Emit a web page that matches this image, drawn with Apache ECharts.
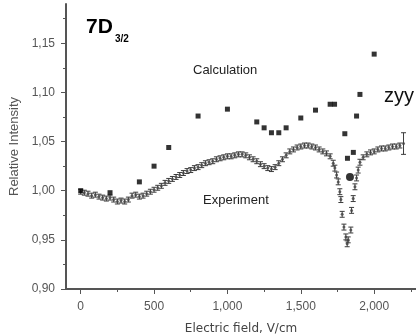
<!DOCTYPE html>
<html>
<head>
<meta charset="utf-8">
<script src="https://cdn.jsdelivr.net/npm/echarts@6/dist/echarts.min.js"></script>
<style>
html,body{margin:0;padding:0;background:#fff;}
#chart{width:416px;height:335px;}
</style>
</head>
<body>
<div id="chart"></div>
<script>
// calculation (squares)
var calcX = [0, 200, 400, 500, 600, 800, 1000, 1200, 1250, 1300, 1350, 1400, 1500, 1600, 1700, 1730, 1800, 1818, 1835, 1858, 1880, 1903, 2000];
var calcY = [1.000, 0.998, 1.009, 1.025, 1.044, 1.076, 1.083, 1.070, 1.064, 1.059, 1.059, 1.064, 1.074, 1.082, 1.088, 1.088, 1.058, 1.033, 1.014, 1.039, 1.076, 1.098, 1.139];

// experiment (points with error bars)
var expX = [0, 25, 50, 75, 100, 125, 150, 175, 200, 225, 250, 275, 300, 325, 350, 375, 400, 425, 450, 475,
  500, 525, 550, 575, 600, 625, 650, 675, 700, 725, 750, 775, 800, 825, 850, 875, 900, 925, 950, 975,
  1000, 1025, 1050, 1075, 1100, 1125, 1150, 1175, 1200, 1225, 1250, 1275, 1300, 1325, 1350, 1375, 1400, 1425, 1450, 1475,
  1500, 1525, 1550, 1575, 1600, 1625, 1650, 1675, 1700,
  1721, 1732, 1744, 1755, 1766, 1773, 1782, 1794, 1807, 1816, 1823, 1841, 1846, 1857, 1869, 1880, 1891, 1903,
  1925, 1950, 1975, 2000, 2025, 2050, 2075, 2100, 2125, 2150, 2175, 2200];
var expY = [0.999, 0.998, 0.997, 0.995, 0.996, 0.994, 0.993, 0.992, 0.993, 0.991, 0.989, 0.990, 0.989, 0.991, 0.995, 0.996, 0.994, 0.995, 0.997, 0.999,
  1.001, 1.003, 1.005, 1.008, 1.010, 1.012, 1.014, 1.016, 1.018, 1.020, 1.021, 1.023, 1.024, 1.026, 1.028, 1.029, 1.030, 1.032, 1.033, 1.034,
  1.035, 1.035, 1.036, 1.037, 1.037, 1.036, 1.034, 1.032, 1.030, 1.027, 1.025, 1.023, 1.022, 1.024, 1.028, 1.032, 1.036, 1.040, 1.042, 1.044,
  1.045, 1.046, 1.046, 1.045, 1.044, 1.042, 1.040, 1.038, 1.035,
  1.028, 1.023, 1.016, 1.009, 0.999, 0.991, 0.976, 0.963, 0.953, 0.946, 0.950, 0.960, 0.980, 0.992, 1.004, 1.013, 1.021, 1.029,
  1.034, 1.037, 1.039, 1.040, 1.042, 1.043, 1.043, 1.044, 1.045, 1.045, 1.046, 1.048];
var expErr = [0.0025, 0.0025, 0.0025, 0.0025, 0.0025, 0.0025, 0.0025, 0.0025, 0.0025, 0.0025, 0.0025, 0.0025, 0.0025, 0.0025, 0.0025, 0.0025, 0.0025, 0.0025, 0.0025, 0.0025,
  0.0025, 0.0025, 0.0025, 0.0025, 0.0025, 0.0025, 0.0025, 0.0025, 0.0025, 0.0025, 0.0025, 0.0025, 0.0025, 0.0025, 0.0025, 0.0025, 0.0025, 0.0025, 0.0025, 0.0025,
  0.0025, 0.0025, 0.0025, 0.0025, 0.0025, 0.0025, 0.0025, 0.0025, 0.0025, 0.0025, 0.0025, 0.0025, 0.0025, 0.0025, 0.0025, 0.0025, 0.0025, 0.0025, 0.0025, 0.0025,
  0.0025, 0.0025, 0.0025, 0.0025, 0.0025, 0.0025, 0.0025, 0.0025, 0.0025,
  0.003, 0.003, 0.003, 0.003, 0.003, 0.003, 0.003, 0.003, 0.003, 0.003, 0.003, 0.003, 0.003, 0.003, 0.003, 0.003, 0.003, 0.003,
  0.0025, 0.0025, 0.0025, 0.0025, 0.0025, 0.0025, 0.0025, 0.0025, 0.0025, 0.0025, 0.0025, 0.011];

var xTicks = [0, 500, 1000, 1500, 2000];
var xMinorTicks = [250, 750, 1250, 1750, 2250];
var yTicks = [0.90, 0.95, 1.00, 1.05, 1.10, 1.15];
var yMinorTicks = [0.925, 0.975, 1.025, 1.075, 1.125, 1.175];

var chart = echarts.init(document.getElementById('chart'));

var calcData = calcX.map(function (x, i) { return [x, calcY[i]]; });
var expData = expX.map(function (x, i) { return [x, expY[i], expErr[i]]; });

function errBar(params, api) {
  var x = api.value(0), y = api.value(1), e = api.value(2);
  var top = api.coord([x, y + e]);
  var bot = api.coord([x, y - e]);
  var hw = 2.5;
  var st = { stroke: '#3c3c3c', lineWidth: 1 };
  return {
    type: 'group',
    children: [
      { type: 'line', shape: { x1: top[0], y1: top[1], x2: bot[0], y2: bot[1] }, style: st },
      { type: 'line', shape: { x1: top[0] - hw, y1: top[1], x2: top[0] + hw, y2: top[1] }, style: st },
      { type: 'line', shape: { x1: bot[0] - hw, y1: bot[1], x2: bot[0] + hw, y2: bot[1] }, style: st }
    ]
  };
}

var axisCol = '#555';
var option = {
  animation: false,
  grid: { left: 66, right: 0, top: 4, bottom: 46, outerBoundsMode: 'none', containLabel: false },
  xAxis: [{
    type: 'value', min: -100, max: 2285,
    axisLine: { onZero: false, lineStyle: { color: axisCol, width: 2 } },
    axisTick: { customValues: xTicks, length: 5, lineStyle: { color: axisCol } },
    axisLabel: { customValues: xTicks, color: '#555', fontFamily: 'Liberation Sans', fontSize: 12, margin: 12 },
    splitLine: { show: false },
    name: 'Electric field, V/cm', nameLocation: 'middle', nameGap: 34,
    nameTextStyle: { color: '#444', fontFamily: 'DejaVu Sans', fontSize: 12 }
  }, {
    type: 'value', min: -100, max: 2285, position: 'bottom',
    axisLine: { show: false, onZero: false },
    axisTick: { customValues: xMinorTicks, length: 3, lineStyle: { color: axisCol } },
    axisLabel: { show: false }, splitLine: { show: false }
  }],
  yAxis: [{
    type: 'value', min: 0.9, max: 1.19,
    axisLine: { show: true, onZero: false, lineStyle: { color: axisCol, width: 2 } },
    axisTick: { show: true, customValues: yTicks, length: 5, lineStyle: { color: axisCol } },
    axisLabel: {
      customValues: yTicks, color: '#555', fontFamily: 'Liberation Sans', fontSize: 12, margin: 11,
      formatter: function (v) { return v.toFixed(2).replace('.', ','); }
    },
    splitLine: { show: false },
    name: 'Relative Intensity', nameLocation: 'middle', nameGap: 36,
    nameTextStyle: { color: '#555', fontFamily: 'Liberation Sans', fontSize: 13 }
  }, {
    type: 'value', min: 0.9, max: 1.19, position: 'left',
    axisLine: { show: false, onZero: false },
    axisTick: { show: true, customValues: yMinorTicks, length: 3, lineStyle: { color: axisCol } },
    axisLabel: { show: false }, splitLine: { show: false }
  }],
  series: [{
    name: 'Experiment', type: 'custom', renderItem: errBar, data: expData, z: 2
  }, {
    name: 'ExperimentPts', type: 'scatter', data: expData, symbol: 'circle', symbolSize: 3,
    itemStyle: { color: '#444' }, z: 3
  }, {
    name: 'Calculation', type: 'scatter', data: calcData,
    symbol: function (v) { return v[0] === 1835 ? 'circle' : 'rect'; },
    symbolSize: function (v) { return v[0] === 1835 ? 8 : 5; },
    itemStyle: { color: '#000' }, z: 4
  }],
  graphic: [
    { type: 'text', left: 86, top: 17, style: { text: '7D', font: 'bold 21px "Liberation Sans"', fill: '#000' } },
    { type: 'text', left: 115, top: 34, style: { text: '3/2', font: 'bold 10px "Liberation Sans"', fill: '#000' } },
    { type: 'text', left: 193, top: 64, style: { text: 'Calculation', font: '13px "Liberation Sans"', fill: '#222' } },
    { type: 'text', left: 203, top: 194, style: { text: 'Experiment', font: '13px "Liberation Sans"', fill: '#222' } },
    { type: 'text', left: 384, top: 86, style: { text: 'zyy', font: '20px "Liberation Sans"', fill: '#111' } }
  ]
};
chart.setOption(option);
</script>
</body>
</html>
